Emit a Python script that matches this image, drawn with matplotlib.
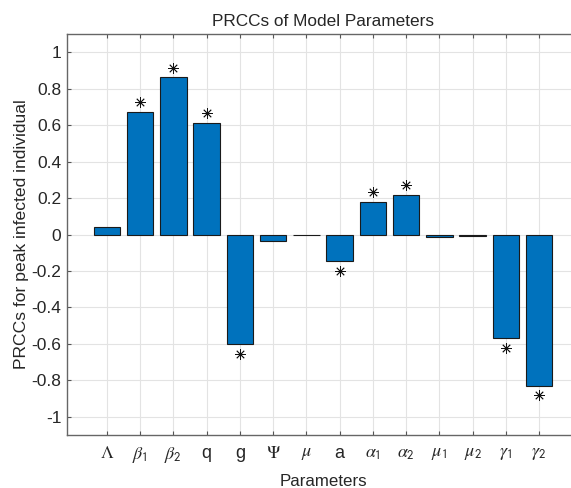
import numpy as np
import matplotlib.pyplot as plt

plt.rcParams["font.family"] = ["Liberation Sans", "DejaVu Sans"]
plt.rcParams["mathtext.fontset"] = "stix"
plt.rcParams["axes.unicode_minus"] = False

params = [r"$\Lambda$", r"$\beta_\mathsf{1}$", r"$\beta_\mathsf{2}$", "q", "g",
          r"$\Psi$", r"$\mu$", "a", r"$\alpha_\mathsf{1}$", r"$\alpha_\mathsf{2}$",
          r"$\mu_\mathsf{1}$", r"$\mu_\mathsf{2}$", r"$\gamma_\mathsf{1}$", r"$\gamma_\mathsf{2}$"]
prcc = [0.042, 0.674, 0.862, 0.614, -0.603, -0.036, -0.005, -0.146,
        0.180, 0.217, -0.015, -0.010, -0.568, -0.829]
significant = [False, True, True, True, True, False, False, True,
               True, True, False, False, True, True]
yticks = [-1, -0.8, -0.6, -0.4, -0.2, 0, 0.2, 0.4, 0.6, 0.8, 1]

x = np.arange(1, len(params) + 1)

fig = plt.figure(figsize=(5.71, 4.88), dpi=100)
ax = fig.add_axes([0.1173, 0.1086, 0.8967, 0.8217])

ax.bar(x, prcc, width=0.8, color="#0072BD", edgecolor="#1a1a1a", linewidth=0.8, zorder=3)

# asterisks for significant parameters
for xi, v, s in zip(x, prcc, significant):
    if s:
        off = 0.052 if v > 0 else -0.053
        ax.plot(xi, v + off, marker=(8, 2, 0), color="#111111", markersize=7.5,
                markeredgewidth=0.6, zorder=4)

ax.set_xlim(-0.2, 15.2)
ax.set_ylim(-1.1, 1.1)
ax.set_xticks(x)
ax.set_xticklabels(params, fontsize=13)
ax.set_yticks(yticks)
ax.set_yticklabels([f"{t:g}" for t in yticks], fontsize=12.5, color="#262626")

ax.grid(True, color="#e3e3e3", linewidth=0.8, zorder=0)
ax.tick_params(direction="in", length=3, color="#555555", top=True, width=0.8)
ax.tick_params(axis="x", pad=7, labelcolor="#262626")
ax.tick_params(axis="y", pad=4)
for side in ["left", "bottom", "top"]:
    ax.spines[side].set_color("#666666")
    ax.spines[side].set_linewidth(1.0)
ax.spines["right"].set_visible(False)  # axes run past the image edge

ax.set_title("PRCCs of Model Parameters", fontsize=12.4, pad=6, color="#262626")
ax.set_xlabel("Parameters", fontsize=12.2, labelpad=7, color="#262626")
ax.set_ylabel("PRCCs for peak infected individual", fontsize=12.6, labelpad=2,
              color="#262626")

fig.savefig("out.png", dpi=100)
